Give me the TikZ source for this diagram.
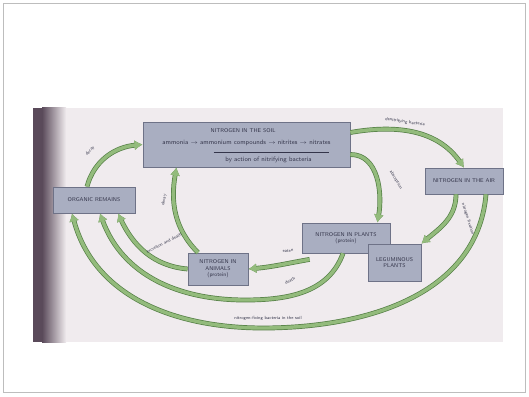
\documentclass[tikz,border=0pt]{standalone}
\usepackage{xcolor}
\usepackage{tikz}
\usetikzlibrary{arrows.meta,positioning,calc}
\definecolor{cyclegreen}{HTML}{93BB7C}
\definecolor{cycledark}{HTML}{557F46}
\definecolor{boxgrey}{HTML}{A9AEC1}
\definecolor{boxedge}{HTML}{6E7287}
\definecolor{paper}{HTML}{F0EBEE}
\definecolor{spine}{HTML}{5A4A5A}
\definecolor{inkgrey}{HTML}{34354A}
\definecolor{pageedge}{HTML}{BDBDBD}
\newcommand{\boxfont}{\fontsize{5.5}{6.3}\selectfont\sffamily}
\newcommand{\chainfont}{\fontsize{6.4}{7.2}\selectfont\sffamily}
\newcommand{\lblfont}{\fontsize{4.5}{5}\selectfont\sffamily}
\tikzstyle{block} = [rectangle, draw=boxedge, line width=0.8pt, fill=boxgrey,
    text=inkgrey, align=center, inner sep=1pt, font=\boxfont]
\tikzstyle{boxtext} = [text=inkgrey, inner sep=0.5pt, font=\boxfont]
\tikzstyle{arrow} = [-{Latex[length=8pt,width=10pt]}, line width=3.4pt, cyclegreen,
    preaction={draw=cycledark, line width=4.8pt}]
\tikzstyle{lbl} = [text=inkgrey, inner sep=0.5pt, font=\lblfont]

\begin{document}
\begin{tikzpicture}[x=1pt,y=1pt]
\useasboundingbox (0,0) rectangle (529,396);
% page and photo
\draw[pageedge, line width=0.6pt] (3.5,3.5) rectangle (525.5,392.5);
\fill[paper] (33,54) rectangle (503,288);
\fill[spine] (33,54) rectangle (42,288);
\shade[left color=spine, right color=paper] (42,54) rectangle (66,288);

% boxes
\node[block, minimum width=207pt, minimum height=45pt] (soil) at (246.5,251.5) {};
\node[boxtext] (soiltitle) at (243,265) {NITROGEN IN THE SOIL};
\node[boxtext, font=\chainfont] (soilchain) at (246.5,253) {ammonia $\rightarrow$ ammonium compounds $\rightarrow$ nitrites $\rightarrow$ nitrates};
\node[boxtext, font=\chainfont] (soilnote) at (268.5,236) {by action of nitrifying bacteria};
\draw[inkgrey, line width=0.5pt] ($(soilnote.north)+(-55,4)$) -- ($(soilnote.north)+(60,4)$);
\node[block, minimum width=78pt, minimum height=26pt] (air) at (464,215) {NITROGEN IN THE AIR};
\node[block, minimum width=82pt, minimum height=26pt] (organic) at (94,196) {ORGANIC REMAINS};
\node[block, minimum width=88pt, minimum height=30pt] (plants) at (346,158) {NITROGEN IN PLANTS\\(protein)};
\node[block, minimum width=53pt, minimum height=37pt] (legumes) at (394.5,133.5) {LEGUMINOUS\\PLANTS};
\node[block, minimum width=60pt, minimum height=32pt] (animals) at (218,127) {NITROGEN IN\\ANIMALS\\(protein)};

% cycle arrows
\coordinate (fixlow) at (263,68);
\coordinate (deathlow) at (245,96);
\draw[arrow] ([xshift=-7pt]organic.north) to[out=75,in=185] (soil.west);
\draw[arrow] ([yshift=12pt]soil.east) to[out=10,in=125] (air.north);
\draw[arrow] ([yshift=-10pt]soil.east) to[out=0,in=80] ([xshift=-13pt]plants.north east);
\draw[arrow] ([xshift=-8pt]air.south) to[out=-90,in=40] (legumes.north east);
\draw[arrow] ([xshift=22pt]air.south) to[out=-95,in=0] (fixlow) to[out=180,in=-75] ([xshift=-22pt]organic.south);
\draw[arrow] ([xshift=-3pt]plants.south) to[out=-110,in=0] (deathlow) to[out=180,in=-70] ([xshift=6pt]organic.south);
\draw[arrow] (animals.west) to[out=175,in=-65] ([xshift=24pt]organic.south);
\draw[arrow] ([xshift=-20pt]animals.north) to[out=135,in=-100] ([xshift=-70pt]soil.south);
\draw[arrow] ([shift={(8pt,-6pt)}]plants.south west) to[out=190,in=5] (animals.east);

% labels
\node[lbl, rotate=48] (lbldecay) at (90,245) {decay};
\node[lbl, rotate=-8] (lbldenit) at (405,274) {denitrifying bacteria};
\node[lbl, rotate=-58] (lblabsorb) at (396,216) {absorption};
\node[lbl, rotate=-72] (lblfix) at (468,177) {nitrogen fixation};
\node[lbl] (lblsoilfix) at (268,78) {nitrogen-fixing bacteria in the soil};
\node[lbl, rotate=28] (lbldeath) at (290,115) {death};
\node[lbl, rotate=8] (lbleaten) at (288,145) {eaten};
\node[lbl, rotate=28] (lblexcrete) at (164,153) {excretion and death};
\node[lbl, rotate=80] (lblrot) at (164,196) {decay};
\end{tikzpicture}
\end{document}
